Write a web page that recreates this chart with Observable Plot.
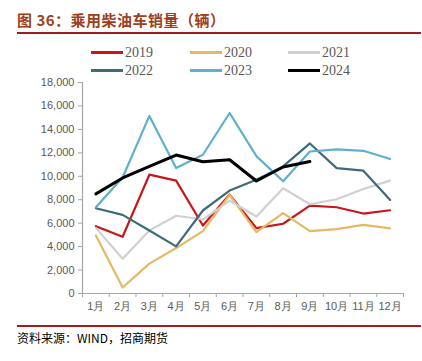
<!DOCTYPE html>
<html><head><meta charset="utf-8">
<script src="https://cdn.jsdelivr.net/npm/d3@7"></script>
<script src="https://cdn.jsdelivr.net/npm/@observablehq/plot@0.6"></script>
<style>
body{margin:0;background:#fff;width:422px;height:361px;position:relative;overflow:hidden;font-family:"Noto Sans CJK SC",sans-serif}
#title{position:absolute;left:17px;top:9px;font-size:15px;font-weight:bold;color:#9C4020;letter-spacing:0.5px}
.rule{position:absolute;left:17px;width:404px;height:2px;background:#A31C1C}
#legend{position:absolute;left:0;top:44px;width:422px;height:36px}
.li{position:absolute;font-family:"Liberation Serif",serif;font-size:14px;color:#595959;height:18px;line-height:18px}
.li span.sw{display:inline-block;width:32px;height:3px;vertical-align:middle;margin-right:2px;position:relative;top:-1px}
#chart{position:absolute;left:0;top:75px}
#caption{position:absolute;left:17px;top:329px;font-size:12px;color:#000}
</style></head><body>
<div id="title">图 36：乘用柴油车销量（辆）</div>
<div class="rule" style="top:32px"></div>
<div id="legend"></div>
<div id="chart"></div>
<div class="rule" style="top:325px"></div>
<div id="caption">资料来源：WIND，招商期货</div>
<script>
const months = ["1月","2月","3月","4月","5月","6月","7月","8月","9月","10月","11月","12月"];
const years = ["2019","2020","2021","2022","2023","2024"];
const colors = ["#C8161D","#E3BA63","#D0D0D0","#3E6B79","#5FB0C9","#000000"];
const s2019 = [5740,4840,10135,9625,5800,8440,5575,5950,7500,7360,6820,7100];
const s2020 = [4950,510,2550,3875,5320,8410,5235,6850,5320,5490,5860,5550];
const s2021 = [5600,2970,5380,6630,6310,7930,6570,8975,7615,8040,8920,9625];
const s2022 = [7275,6710,5380,4020,7080,8780,9710,10840,12800,10700,10475,7985];
const s2023 = [7360,9900,15150,10700,11835,15400,11720,9570,12115,12290,12175,11470];
const s2024 = [8500,9855,10840,11810,11240,11410,9600,10790,11265];
const yTicks = [0,2000,4000,6000,8000,10000,12000,14000,16000,18000];

const series = [s2019,s2020,s2021,s2022,s2023,s2024];
const data = [];
series.forEach((s,k)=>s.forEach((v,i)=>data.push({year:years[k], m:i+0.5, v})));

// legend
const leg = document.getElementById("legend");
const cols=[91,190,288];
years.forEach((y,k)=>{
  const d=document.createElement("div");
  d.className="li";
  d.style.left=cols[k%3]+"px";
  d.style.top=(k<3?0:18)+"px";
  d.innerHTML=`<span class="sw" style="background:${colors[k]}"></span>${y}`;
  leg.appendChild(d);
});

const axisColor="#A6A6A6";
const chart = Plot.plot({
  width:422, height:245,
  marginLeft:82, marginRight:19, marginTop:7, marginBottom:27,
  style:{fontFamily:"Liberation Sans, Arial, sans-serif", fontSize:"11px", color:"#595959", background:"transparent"},
  x:{type:"linear", domain:[0,12]},
  y:{domain:[0,18000]},
  color:{domain:years, range:colors},
  marks:[
    Plot.ruleX([0],{stroke:axisColor, strokeWidth:1.2}),
    Plot.ruleY([0],{stroke:axisColor, strokeWidth:1.2}),
    Plot.axisY({ticks:yTicks, tickSize:4, tickPadding:4, tickFormat:d3.format(","), stroke:axisColor, fill:"#595959", label:null}),
    Plot.axisX({ticks:d3.range(0,13), tickSize:4, tickFormat:()=>"", stroke:axisColor, label:null}),
    Plot.axisX({ticks:months.map((_,i)=>i+0.5), tickSize:0, tickPadding:9, tickFormat:d=>months[Math.round(d-0.5)], fill:"#595959", label:null}),
    Plot.line(data.filter(d=>d.year!=="2024"),{x:"m", y:"v", z:"year", stroke:"year", strokeWidth:2.2}),
    Plot.line(data.filter(d=>d.year==="2024"),{x:"m", y:"v", stroke:"year", strokeWidth:3})
  ]
});
document.getElementById("chart").appendChild(chart);
</script>
</body></html>
